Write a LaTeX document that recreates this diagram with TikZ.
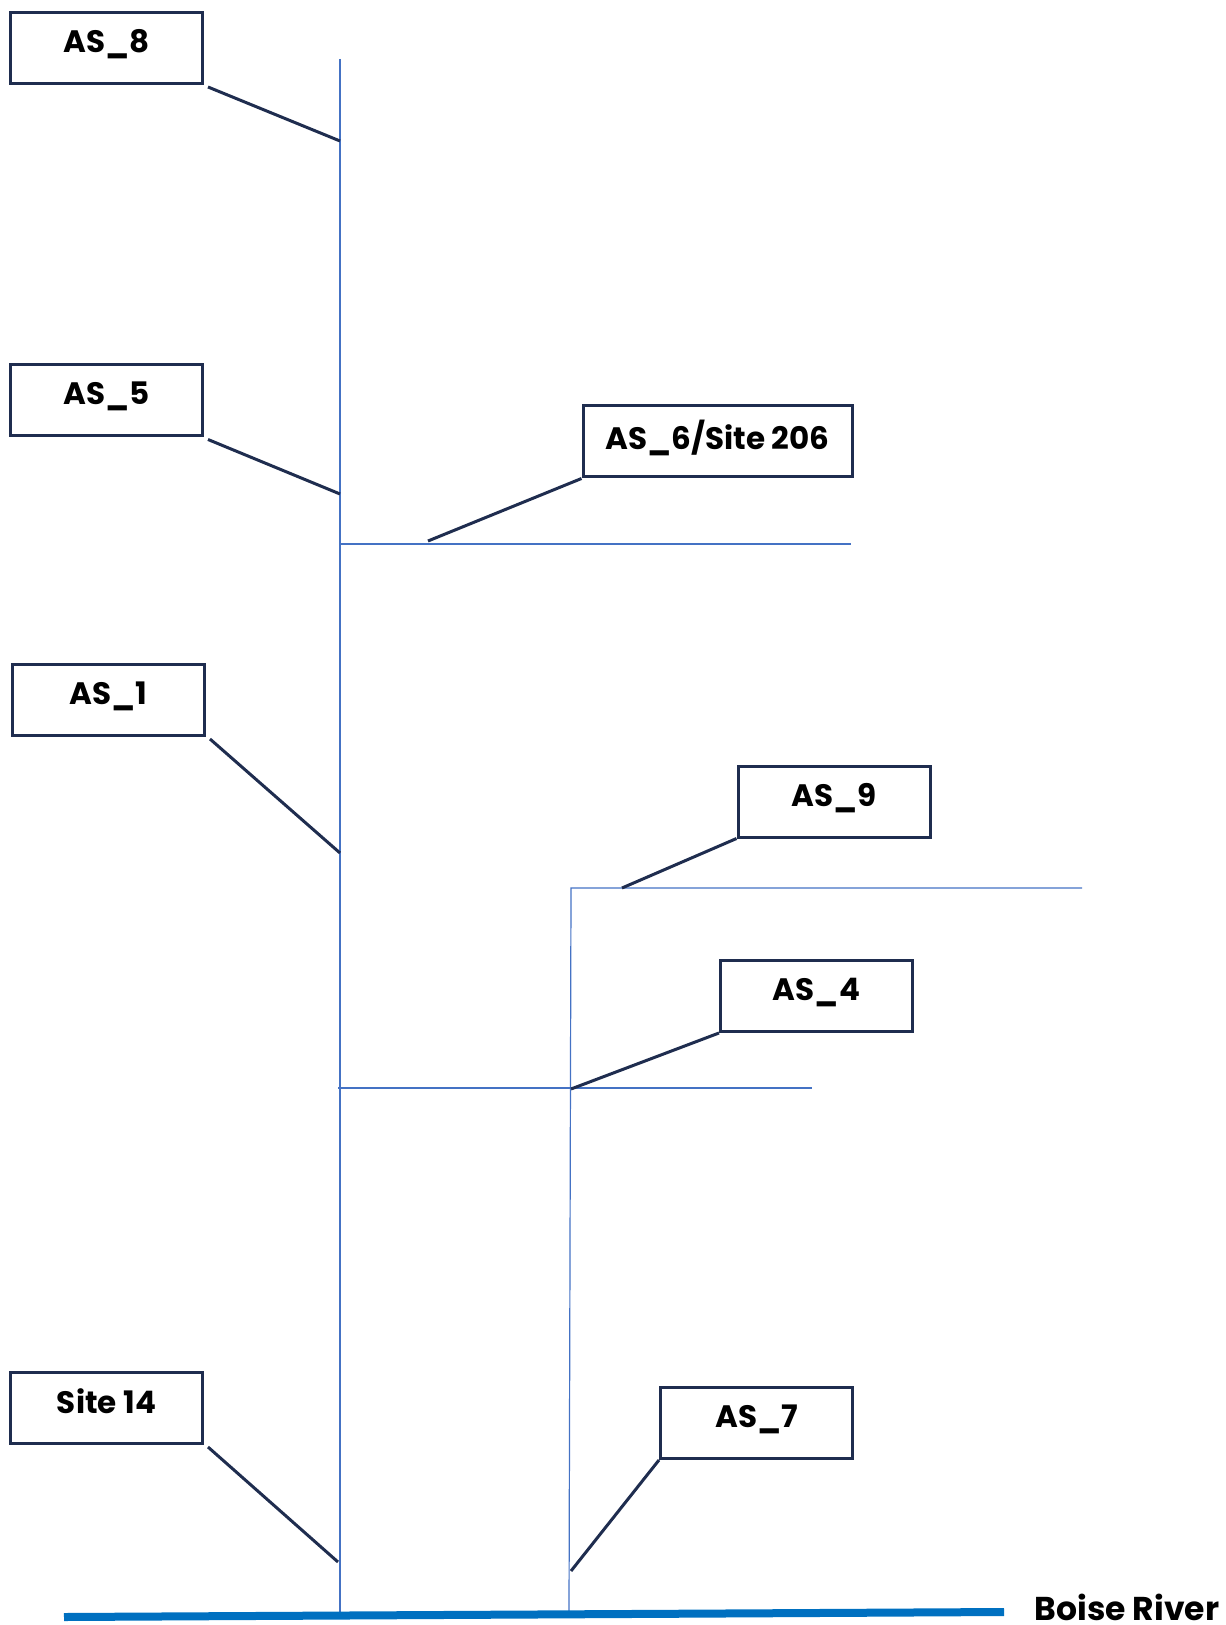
\documentclass[tikz,border=0pt]{standalone}
\usepackage{fontspec}
\setmainfont{Poppins}
\usepackage{tikz}

\definecolor{navy}{RGB}{31,45,79}
\definecolor{stream}{RGB}{68,114,196}
\definecolor{river}{RGB}{0,112,192}

\begin{document}
\begin{tikzpicture}[x=0.5pt,y=-0.5pt,
	sitebox/.style={draw=navy,line width=1.5pt,minimum width=96pt,minimum height=35.5pt,inner sep=0pt,text depth=7pt,font=\fontsize{15.5}{18}\selectfont\bfseries},
	leader/.style={draw=navy,line width=1.5pt},
	creek/.style={draw=stream,line width=0.6pt}]
	\useasboundingbox (0,0) rectangle (1225,1625);
	% streams
	\draw [creek] (340,59) -- (340,1615);
	\draw [creek] (340,544) -- (851,544);
	\draw [creek] (338,1088) -- (812,1088);
	\draw [creek] (1082,888) -- (571,888) -- (569,1612);
	\draw [river,line width=4pt] (64,1617) -- node[pos=1,anchor=west,xshift=10pt,yshift=2.5pt,inner ysep=1pt,text=black,font=\fontsize{16.5}{18}\selectfont\bfseries] (boise) {Boise River} (1004,1612);
	% site labels
	\node[sitebox] (as8) at (106.5,48) {AS\_8};
	\node[sitebox] (as5) at (106.5,400.5) {AS\_5};
	\node[sitebox,minimum width=134.5pt] (as6) at (717.5,441.5) {AS\_6/Site 206};
	\node[sitebox] (as1) at (108.5,700) {AS\_1};
	\node[sitebox] (as9) at (834,801.5) {AS\_9};
	\node[sitebox] (as4) at (816.5,996) {AS\_4};
	\node[sitebox] (site14) at (106.5,1408) {Site 14};
	\node[sitebox] (as7) at (756.5,1423) {AS\_7};
	% leader ends
	\coordinate (t8) at (340,141);
	\coordinate (t5) at (340,494);
	\coordinate (t6) at (428,541);
	\coordinate (t1) at (340,853);
	\coordinate (t9) at (622,888);
	\coordinate (t4) at (571,1089);
	\coordinate (t14) at (338,1562);
	\coordinate (t7) at (571,1571);
	\foreach \site/\tip in {as8/t8,as5/t5,as1/t1,site14/t14}
	\draw [leader] ([shift={(4,2)}]\site.south east) -- (\tip);
	\foreach \site/\tip in {as6/t6,as9/t9,as4/t4,as7/t7}
	\draw [leader] (\site.south west) -- (\tip);
\end{tikzpicture}
\end{document}
